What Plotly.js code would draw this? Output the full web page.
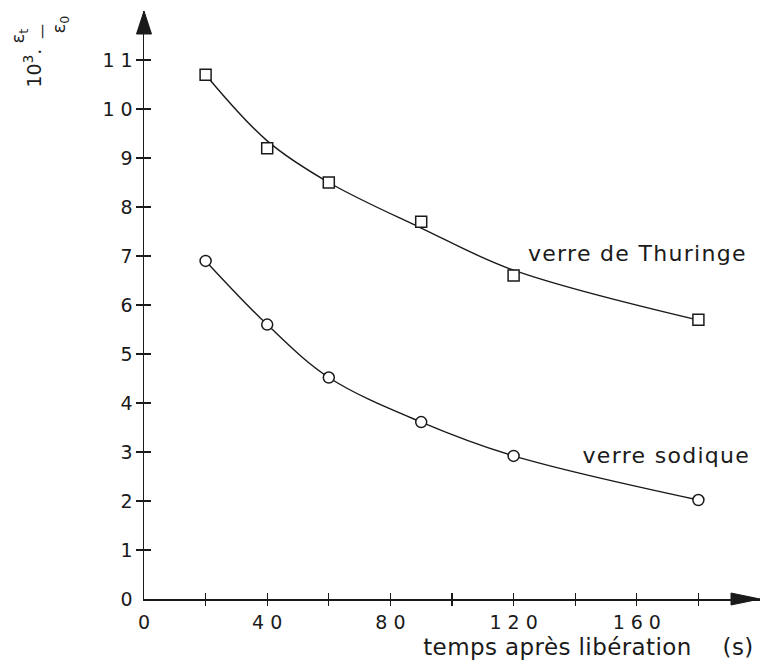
<!DOCTYPE html>
<html>
<head>
<meta charset="utf-8">
<script src="https://cdn.plot.ly/plotly-3.0.1.min.js"></script>
<style>
  html, body { margin: 0; padding: 0; background: #fff; }
  #chart { width: 763px; height: 664px; }
  .xtick text, .ytick text { letter-spacing: 6px; }
  .annotation[data-index="4"] text, .annotation[data-index="5"] text { letter-spacing: 1.3px; }
  .annotation[data-index="6"] text { letter-spacing: 0.4px; }
</style>
</head>
<body>
<div id="chart"></div>
<script>
// ---- data ----
const timeS = [20, 40, 60, 90, 120, 180];
const thuringe = [10.7, 9.2, 8.5, 7.7, 6.6, 5.7];
const sodique = [6.9, 5.6, 4.52, 3.61, 2.92, 2.02];
// smooth fitted curves drawn in the reference, read at the same times
const thuringeFit = [10.7, 9.35, 8.5, 7.57, 6.71, 5.69];
const sodiqueFit = [6.9, 5.6, 4.52, 3.61, 2.92, 2.02];

// ---- tick values / labels ----
const xLabelVals = [0, 40, 80, 120, 160];
const xLabelText = ['0', '40', '80', '120', '160'];
const xTickMarks = [20, 40, 60, 80, 100, 120, 140, 160, 180];
const yLabelVals = [0, 1, 2, 3, 4, 5, 6, 7, 8, 9, 10, 11];
const yLabelText = ['0', '1', '2', '3', '4', '5', '6', '7', '8', '9', '10', '11'];
const yTickMarks = [1, 2, 3, 4, 5, 6, 7, 8, 9, 10, 11];

const xRange = [0, 200];
const yRange = [0, 12];

const ink = '#1a1a1a';
const FONT = 'DejaVu Sans';

const lineStyle = { color: ink, width: 1.4, shape: 'spline', smoothing: 1 };
const mk = (sym) => ({ symbol: sym, size: 11, color: '#ffffff', line: { color: ink, width: 1.5 } });

const traces = [
  { x: timeS, y: thuringeFit, mode: 'lines', line: lineStyle, xaxis: 'x2', yaxis: 'y2', hoverinfo: 'skip', showlegend: false },
  { x: timeS, y: sodiqueFit, mode: 'lines', line: lineStyle, xaxis: 'x2', yaxis: 'y2', hoverinfo: 'skip', showlegend: false },
  { x: timeS, y: thuringe, mode: 'markers', marker: mk('square'), xaxis: 'x3', yaxis: 'y3', name: 'verre de Thuringe', showlegend: false },
  { x: timeS, y: sodique, mode: 'markers', marker: mk('circle'), xaxis: 'x3', yaxis: 'y3', name: 'verre sodique', showlegend: false }
];

const tickFont = { family: FONT, size: 19, color: ink };

const baseX = { range: xRange, fixedrange: true, showgrid: false, zeroline: false };
const baseY = { range: yRange, fixedrange: true, showgrid: false, zeroline: false };

const layout = {
  width: 763, height: 664,
  margin: { l: 144, r: 3, t: 11, b: 65, pad: 0 },
  paper_bgcolor: '#ffffff', plot_bgcolor: '#ffffff',
  showlegend: false,
  xaxis: Object.assign({}, baseX, {
    showline: true, linecolor: ink, linewidth: 1.5,
    ticks: '', tickmode: 'array', tickvals: xLabelVals, ticktext: xLabelText,
    tickfont: tickFont, ticklabelstandoff: 6, ticklabelshift: 3
  }),
  yaxis: Object.assign({}, baseY, {
    showline: true, linecolor: ink, linewidth: 1.5,
    ticks: '', tickmode: 'array', tickvals: yLabelVals, ticktext: yLabelText,
    tickfont: tickFont, ticklabelstandoff: 0
  }),
  xaxis2: Object.assign({}, baseX, {
    overlaying: 'x', anchor: 'y2', showline: false, ticks: 'outside', ticklen: 6, tickwidth: 1.3, tickcolor: ink,
    tickmode: 'array', tickvals: xTickMarks, showticklabels: false
  }),
  yaxis2: Object.assign({}, baseY, {
    overlaying: 'y', anchor: 'x2', showline: false, ticks: 'outside', ticklen: 7, tickwidth: 1.3, tickcolor: ink,
    tickmode: 'array', tickvals: yTickMarks, showticklabels: false
  }),
  xaxis3: Object.assign({}, baseX, {
    overlaying: 'x', anchor: 'y3', showline: false, ticks: 'inside', ticklen: 6, tickwidth: 1.3, tickcolor: ink,
    tickmode: 'array', tickvals: xTickMarks, showticklabels: false
  }),
  yaxis3: Object.assign({}, baseY, {
    overlaying: 'y', anchor: 'x3', showline: false, ticks: 'inside', ticklen: 7, tickwidth: 1.3, tickcolor: ink,
    tickmode: 'array', tickvals: yTickMarks, showticklabels: false
  }),
  shapes: [
    { type: 'path', xref: 'paper', yref: 'paper', xsizemode: 'pixel', ysizemode: 'pixel',
      xanchor: 1, yanchor: 0, path: 'M-29,-6 L0,0 L-29,6 Z', fillcolor: ink, line: { color: ink, width: 1 } },
    { type: 'path', xref: 'paper', yref: 'paper', xsizemode: 'pixel', ysizemode: 'pixel',
      xanchor: 0, yanchor: 1, path: 'M-7.5,-23 L0,0 L7.5,-23 Z', fillcolor: ink, line: { color: ink, width: 1 } }
  ],
  annotations: [
    { text: '10<sup>3</sup>.', xref: 'paper', yref: 'paper', x: -0.1802, y: 0.9039, textangle: -90,
      showarrow: false, xanchor: 'center', yanchor: 'middle', font: { family: FONT, size: 19, color: ink } },
    { text: 'ε<sub>t</sub>', xref: 'paper', yref: 'paper', x: -0.2029, y: 0.9566, textangle: -90,
      showarrow: false, xanchor: 'center', yanchor: 'middle', font: { family: FONT, size: 18, color: ink } },
    { text: '—', xref: 'paper', yref: 'paper', x: -0.1656, y: 0.9660, textangle: -90,
      showarrow: false, xanchor: 'center', yanchor: 'middle', font: { family: FONT, size: 15, color: ink } },
    { text: 'ε<sub>0</sub>', xref: 'paper', yref: 'paper', x: -0.1356, y: 0.9779, textangle: -90,
      showarrow: false, xanchor: 'center', yanchor: 'middle', font: { family: FONT, size: 18, color: ink } },
    { text: 'verre de Thuringe', xref: 'x', yref: 'y', x: 127.6, y: 7.06, showarrow: false,
      xanchor: 'left', yanchor: 'middle', font: { family: FONT, size: 22, color: ink } },
    { text: 'verre sodique', xref: 'x', yref: 'y', x: 144.4, y: 2.92, showarrow: false,
      xanchor: 'left', yanchor: 'middle', font: { family: FONT, size: 22, color: ink } },
    { text: 'temps après libération\u00a0\u00a0\u00a0\u00a0(s)', xref: 'paper', yref: 'paper', x: 0.7208, y: -0.0816,
      showarrow: false, xanchor: 'center', yanchor: 'middle', font: { family: FONT, size: 23, color: ink } }
  ]
};

Plotly.newPlot('chart', traces, layout, { staticPlot: true, displayModeBar: false });
</script>
</body>
</html>
